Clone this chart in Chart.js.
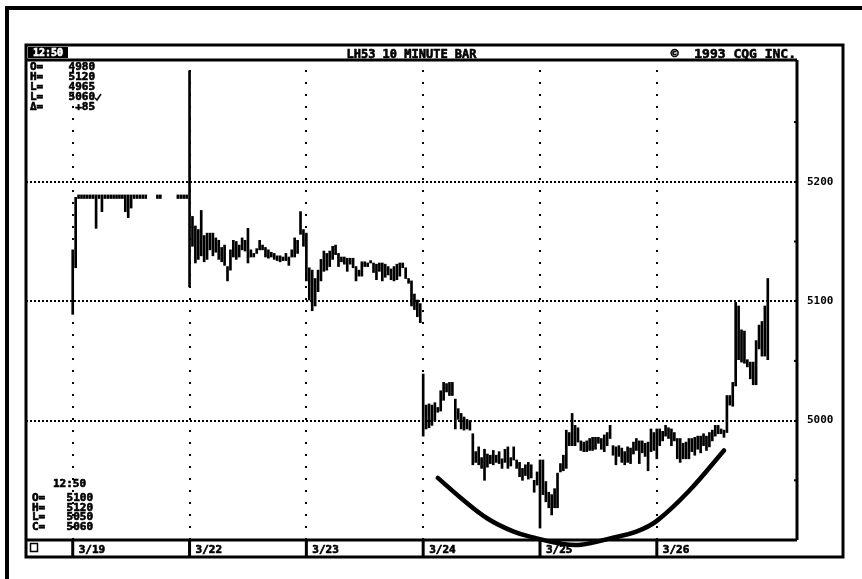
<!DOCTYPE html>
<html>
<head>
<meta charset="utf-8">
<script src="https://cdn.jsdelivr.net/npm/chart.js@4/dist/chart.umd.min.js"></script>
<style>
  html, body { margin: 0; padding: 0; background: #fff; }
  canvas { display: block; }
</style>
</head>
<body>
<canvas id="chart" width="862" height="579"></canvas>
<script>
// Day labels on the date strip and how many 10-minute slots each day gets
const dayLabels = ['3/19', '3/22', '3/23', '3/24', '3/25', '3/26'];
const barsPerDay = 40;
const priceTicks = [5000, 5100, 5200];
const minorTicks = [4950, 5050, 5150, 5250];

// High / low of each bar, one pair of arrays per day (null = no trade)
const hi0319 = [5143, 5187, 5189, 5189, 5189, 5189, 5189, 5189, 5189, 5189,
                5189, 5189, 5189, 5189, 5189, 5189, 5189, 5189, 5189, 5189,
                5189, 5189, 5189, 5189, 5189, 5189, null, null, null, 5189,
                5189, null, null, null, null, null, 5189, 5189, 5189, 5189];
const lo0319 = [5089, 5128, 5186, 5186, 5186, 5186, 5186, 5186, 5161, 5186,
                5175, 5186, 5186, 5186, 5186, 5186, 5186, 5186, 5175, 5170,
                5178, 5186, 5186, 5186, 5186, 5186, null, null, null, 5186,
                5186, null, null, null, null, null, 5186, 5186, 5186, 5186];

const hi0322 = [5293, 5171, 5163, 5160, 5176, 5155, 5157, 5157, 5157, 5153,
                5151, 5145, 5147, 5129, 5143, 5151, 5150, 5147, 5153, 5151,
                5161, 5143, 5140, 5144, 5151, 5147, 5145, 5143, 5141, 5140,
                5138, 5138, 5137, 5140, 5137, 5143, 5153, 5151, 5175, 5160];
const lo0322 = [5112, 5146, 5132, 5135, 5138, 5133, 5135, 5143, 5138, 5141,
                5135, 5133, 5130, 5117, 5126, 5137, 5135, 5137, 5143, 5142,
                5132, 5137, 5137, 5140, 5143, 5143, 5137, 5136, 5137, 5135,
                5134, 5133, 5134, 5134, 5130, 5137, 5137, 5140, 5156, 5146];

const hi0323 = [5157, 5128, 5126, 5119, 5126, 5135, 5142, 5140, 5142, 5146,
                5147, 5140, 5137, 5137, 5136, 5136, 5136, 5129, 5126, 5133,
                5133, 5132, 5134, 5132, 5131, 5132, 5132, 5131, 5129, 5127,
                5129, 5131, 5132, 5132, 5128, 5119, 5117, 5106, 5101, 5098];
const lo0323 = [5117, 5101, 5092, 5096, 5108, 5117, 5125, 5126, 5129, 5135,
                5139, 5129, 5133, 5131, 5125, 5131, 5128, 5117, 5121, 5121,
                5129, 5129, 5132, 5124, 5118, 5125, 5117, 5120, 5122, 5118,
                5117, 5118, 5121, 5128, 5119, 5115, 5096, 5093, 5087, 5082];

const hi0324 = [5039, 5013, 5014, 5013, 5015, 5011, 5025, 5032, 5031, 5032,
                5032, 5018, 5010, 5006, 5003, 5001, 5000, 4989, 4974, 4978,
                4969, 4976, 4972, 4971, 4975, 4971, 4974, 4968, 4976, 4978,
                4969, 4978, 4967, 4965, 4960, 4963, 4965, 4963, 4950, 4957];
const lo0324 = [4987, 4993, 4994, 4996, 5000, 5007, 5008, 5017, 5024, 5021,
                5021, 4993, 5001, 4993, 4992, 4993, 4992, 4963, 4965, 4963,
                4960, 4950, 4961, 4964, 4963, 4965, 4964, 4960, 4965, 4960,
                4962, 4967, 4960, 4953, 4950, 4954, 4951, 4952, 4940, 4946];

const hi0325 = [4967, 4967, 4949, 4940, 4938, 4943, 4956, 4964, 4971, 4992,
                4990, 5006, 4996, 4994, 4983, 4982, 4983, 4985, 4986, 4986,
                4986, 4985, 4988, 4990, 4996, 4979, 4978, 4979, 4977, 4974,
                4978, 4977, 4982, 4985, 4983, 4983, 4981, 4982, 4993, 4990];
const lo0325 = [4910, 4938, 4932, 4927, 4921, 4927, 4927, 4957, 4958, 4960,
                4979, 4979, 4979, 4982, 4975, 4974, 4974, 4975, 4975, 4976,
                4981, 4976, 4974, 4979, 4985, 4971, 4963, 4970, 4965, 4963,
                4965, 4964, 4972, 4975, 4964, 4973, 4970, 4958, 4974, 4975];

const hi0326 = [4993, 4993, 4991, 4996, 4994, 4993, 4990, 4985, 4985, 4981,
                4982, 4985, 4985, 4986, 4987, 4987, 4989, 4987, 4990, 4992,
                4996, 4996, 4993, 4992, 5021, 5021, 5032, 5099, 5096, 5076,
                5075, 5051, 5049, 5049, 5067, 5080, 5083, 5096, 5119];
const lo0326 = [4968, 4979, 4983, 4987, 4985, 4979, 4983, 4968, 4965, 4968,
                4968, 4968, 4974, 4971, 4976, 4973, 4979, 4975, 4978, 4983,
                4987, 4989, 4989, 4986, 4990, 5013, 5012, 5029, 5051, 5049,
                5048, 5045, 5035, 5030, 5030, 5060, 5054, 5054, 5051];

// Hand-drawn rounding-bottom curve (bar slot, price)
const arcSlot = [125, 133, 142, 151, 158, 167, 174, 185, 193, 200, 211, 223];
const arcPrice = [4952, 4935, 4918, 4907, 4902, 4897, 4896, 4902, 4907, 4916, 4941, 4975];

// Header / footer text
const titleText = 'LH53 10 MINUTE BAR';
const copyText = '\u00A9  1993 CQG INC.';
const clockText = '12:50';
const dayInfo = [['O=', '4980'], ['H=', '5120'], ['L=', '4965'], ['L=', '5060'], ['\u0394=', '+85']];
const lastBarInfo = [['O=', '5100'], ['H=', '5120'], ['L=', '5050'], ['C=', '5060']];

const highs = [hi0319, hi0322, hi0323, hi0324, hi0325, hi0326];
const lows = [lo0319, lo0322, lo0323, lo0324, lo0325, lo0326];

const bars = [];
highs.forEach((dayHi, d) => {
    dayHi.forEach((h, i) => {
        if (h === null) return;
        bars.push({ x: d * barsPerDay + i, y: [lows[d][i], h] });
    });
});
const arc = arcSlot.map((s, i) => ({ x: s, y: arcPrice[i] }));

const FONT = '"DejaVu Sans Mono", "Liberation Mono", monospace';

// bold bitmap-ish text
function txt(c, s, x, y, align, size, color) {
    c.font = 'bold ' + (size || 11) + 'px ' + FONT;
    c.textAlign = align || 'left';
    c.textBaseline = 'alphabetic';
    c.fillStyle = color || '#000';
    c.strokeStyle = color || '#000';
    c.lineWidth = 0.6;
    c.fillText(s, x, y);
    c.strokeText(s, x, y);
}

const framePlugin = {
    id: 'frame',
    beforeDraw(chart) {
        const c = chart.ctx;
        c.save();
        c.fillStyle = '#fff';
        c.fillRect(0, 0, chart.width, chart.height);
        c.restore();
    },
    beforeDatasetsDraw(chart) {
        const c = chart.ctx;
        const a = chart.chartArea;
        const xs = chart.scales.x;
        const ys = chart.scales.y;
        const boxRight = ys.right;
        const boxTop = 45;
        const stripBottom = 557;

        c.save();
        c.strokeStyle = '#000';
        c.fillStyle = '#000';

        // outer scan frame
        c.lineWidth = 4;
        c.beginPath();
        c.moveTo(5, 8); c.lineTo(chart.width, 8);
        c.moveTo(7, 6); c.lineTo(7, chart.height);
        c.stroke();

        // inner box and plot frame
        c.lineWidth = 3;
        c.strokeRect(a.left, boxTop, boxRight - a.left, stripBottom - boxTop);
        c.beginPath();
        c.moveTo(a.left, a.top); c.lineTo(a.right, a.top);
        c.moveTo(a.right, a.top); c.lineTo(a.right, a.bottom);
        c.moveTo(a.left, a.bottom); c.lineTo(a.right, a.bottom);
        c.stroke();

        // small half-step ticks on the right edge
        c.lineWidth = 2;
        minorTicks.forEach(v => {
            const py = ys.getPixelForValue(v);
            c.beginPath();
            c.moveTo(a.right - 3, py); c.lineTo(a.right, py);
            c.stroke();
        });

        // date strip
        dayLabels.forEach((lab, d) => {
            const px = xs.getPixelForValue(d * barsPerDay);
            c.lineWidth = 3;
            c.beginPath();
            c.moveTo(px, a.bottom); c.lineTo(px, stripBottom);
            c.stroke();
            txt(c, lab, px + 6, 553);
        });
        c.lineWidth = 1.5;
        c.strokeRect(30.5, 543.5, 7, 8);

        // title bar
        c.fillStyle = '#000';
        c.fillRect(28, 47, 40, 11);
        txt(c, clockText, 48, 56, 'center', 10, '#fff');
        txt(c, titleText, (a.left + a.right) / 2, 58, 'center', 12);
        txt(c, copyText, a.right - 1, 58, 'right', 13);

        // day summary, top left
        dayInfo.forEach((row, i) => {
            const by = 70 + i * 10;
            txt(c, row[0], 30, by, 'left', 11);
            txt(c, row[1], 95, by, 'right', 11);
        });
        c.lineWidth = 1.5;
        c.beginPath();
        c.moveTo(95, 98); c.lineTo(97, 100); c.lineTo(101, 94);
        c.stroke();

        // last bar summary, bottom left
        txt(c, clockText, 86, 487, 'right', 11);
        lastBarInfo.forEach((row, i) => {
            const by = 501 + i * 9.5;
            txt(c, row[0], 32, by, 'left', 11);
            txt(c, row[1], 93, by, 'right', 11);
        });

        c.restore();
    }
};

new Chart(document.getElementById('chart').getContext('2d'), {
    data: {
        datasets: [
            {
                type: 'bar',
                data: bars,
                backgroundColor: '#000',
                borderWidth: 0,
                barThickness: 2,
                grouped: false
            },
            {
                type: 'line',
                data: arc,
                borderColor: '#000',
                borderWidth: 4.5,
                borderCapStyle: 'round',
                tension: 0.4,
                pointRadius: 0,
                clip: false
            }
        ]
    },
    options: {
        responsive: false,
        animation: false,
        devicePixelRatio: 1,
        layout: { padding: { left: 26, top: 60, right: 19, bottom: 39 } },
        plugins: {
            legend: { display: false },
            tooltip: { enabled: false }
        },
        scales: {
            x: {
                type: 'linear',
                min: -16,
                max: 248,
                offset: false,
                afterBuildTicks: s => { s.ticks = dayLabels.map((_, d) => ({ value: d * barsPerDay })); },
                afterFit: s => { s.height = 0; },
                ticks: { display: false },
                grid: { color: '#000', lineWidth: 2, drawTicks: false, offset: false },
                border: { display: false, dash: [2, 10], dashOffset: 2 }
            },
            y: {
                position: 'right',
                min: 4900,
                max: 5302,
                afterBuildTicks: s => { s.ticks = priceTicks.map(v => ({ value: v })); },
                afterFit: s => { s.width = 46; },
                ticks: {
                    color: '#000',
                    padding: 10,
                    font: { family: FONT, weight: 'bold', size: 11 },
                    callback: v => String(v)
                },
                grid: { color: '#000', lineWidth: 2, drawTicks: false },
                border: { display: false, dash: [2, 2] }
            }
        }
    },
    plugins: [framePlugin]
});
</script>
</body>
</html>
